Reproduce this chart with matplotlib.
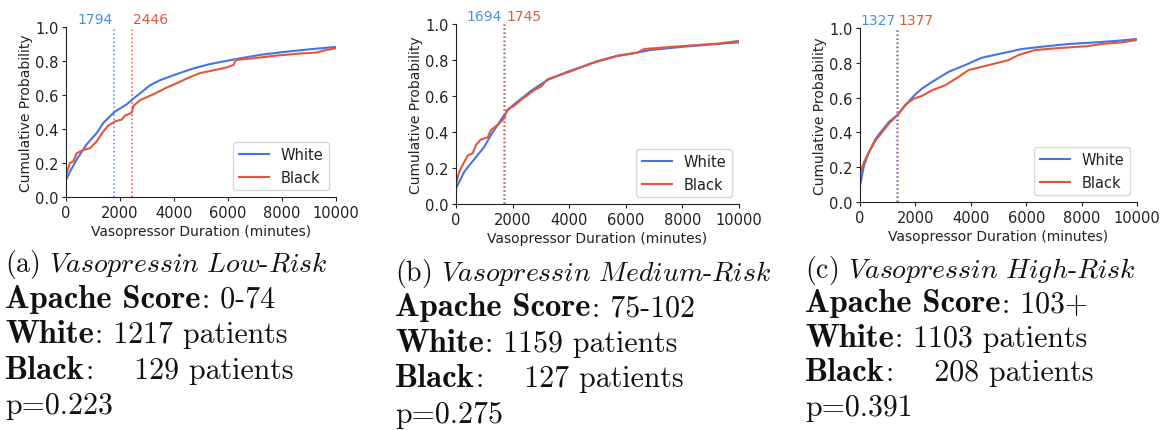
import matplotlib
matplotlib.use("Agg")
import matplotlib.pyplot as plt

plt.rcParams["mathtext.fontset"] = "cm"

# ---- data -------------------------------------------------------------
panel_tags = ["(a)", "(b)", "(c)"]
risk_names = ["Low", "Medium", "High"]
apache_ranges = ["0-74", "75-102", "103+"]
white_counts = [1217, 1159, 1103]
black_counts = [129, 127, 208]
p_values = ["0.223", "0.275", "0.391"]
white_medians = [1794, 1694, 1327]
black_medians = [2446, 1745, 1377]

# Empirical CDFs of vasopressor duration (minutes -> cumulative probability)
low_white_x = [0, 150, 395, 765, 1136, 1383, 1794, 2247, 2469, 3111, 3481, 4099,
               4716, 5333, 6321, 7185, 8173, 9160, 10000]
low_white_y = [0.10, 0.15, 0.22, 0.31, 0.376, 0.436, 0.50, 0.545, 0.575, 0.657,
               0.687, 0.723, 0.756, 0.782, 0.812, 0.836, 0.855, 0.871, 0.883]
low_black_x = [0, 148, 272, 395, 642, 889, 1136, 1383, 1568, 1815, 2062, 2185,
               2432, 2494, 2741, 3235, 3728, 4099, 4469, 4963, 5580, 5951, 6198,
               6296, 6938, 7802, 8667, 9284, 9531, 10000]
low_black_y = [0.13, 0.20, 0.21, 0.257, 0.277, 0.287, 0.327, 0.386, 0.42, 0.445,
               0.455, 0.479, 0.495, 0.535, 0.57, 0.604, 0.644, 0.669, 0.697, 0.729,
               0.749, 0.762, 0.776, 0.806, 0.816, 0.832, 0.844, 0.85, 0.861, 0.875]

med_white_x = [0, 294, 529, 765, 1000, 1235, 1470, 1706, 1882, 2176, 2647, 3235,
               3941, 4647, 5000, 5706, 6412, 6882, 8059, 9235, 10000]
med_white_y = [0.087, 0.18, 0.226, 0.272, 0.318, 0.383, 0.439, 0.494, 0.531,
               0.569, 0.628, 0.689, 0.735, 0.772, 0.794, 0.824, 0.841, 0.856,
               0.874, 0.889, 0.898]
med_black_x = [0, 118, 235, 412, 588, 706, 882, 1118, 1235, 1470, 1706, 1800,
               2059, 2294, 2765, 3000, 3235, 3941, 4765, 5706, 6412, 6647, 8059,
               9235, 10000]
med_black_y = [0.115, 0.18, 0.217, 0.269, 0.281, 0.328, 0.359, 0.37, 0.411, 0.439,
               0.476, 0.522, 0.546, 0.578, 0.633, 0.652, 0.693, 0.731, 0.781,
               0.822, 0.841, 0.861, 0.878, 0.891, 0.906]

high_white_x = [0, 144, 323, 563, 802, 1042, 1341, 1641, 1940, 2240, 2599, 3198,
                3796, 4395, 5114, 5832, 6551, 7509, 8467, 9186, 10000]
high_white_y = [0.095, 0.21, 0.287, 0.363, 0.412, 0.46, 0.498, 0.556, 0.61, 0.652,
                0.69, 0.748, 0.787, 0.829, 0.854, 0.879, 0.892, 0.908, 0.917,
                0.925, 0.937]
high_black_x = [0, 144, 323, 563, 802, 1042, 1341, 1641, 1940, 2240, 2599, 3078,
                3557, 3916, 4395, 4874, 5353, 5713, 6311, 7030, 8228, 8707, 9425,
                10000]
high_black_y = [0.162, 0.229, 0.287, 0.354, 0.402, 0.45, 0.498, 0.56, 0.594, 0.61,
                0.642, 0.671, 0.719, 0.758, 0.777, 0.796, 0.815, 0.844, 0.873,
                0.883, 0.896, 0.908, 0.917, 0.931]

white_curves = [(low_white_x, low_white_y), (med_white_x, med_white_y),
                (high_white_x, high_white_y)]
black_curves = [(low_black_x, low_black_y), (med_black_x, med_black_y),
                (high_black_x, high_black_y)]

# ---- styling -----------------------------------------------------------
WHITE_C = "#4673e6"
BLACK_C = "#e6553b"
WHITE_TXT = "#4a8de6"
INK = "#222222"
CAPTION_INK = "#111111"

fig = plt.figure(figsize=(11.61, 4.31), dpi=100)
W, H = 1161, 431
renderer = fig.canvas.get_renderer()

# axes boxes in pixels: left, top, right, bottom
axes_px = [(66, 28, 336, 198), (456, 25, 739, 205), (860, 29, 1137, 203)]
# caption left edge, first baseline and line spacing (pixels)
caption_px = [(5, 272.5, 35.5), (395, 281, 35.5), (805, 278, 34.5)]

for i in range(3):
    l, t, r, b = axes_px[i]
    ax = fig.add_axes([l / W, 1 - b / H, (r - l) / W, (b - t) / H])
    wx, wy = white_curves[i]
    bx, by = black_curves[i]
    ax.plot(wx, wy, color=WHITE_C, lw=1.5, label="White")
    ax.plot(bx, by, color=BLACK_C, lw=1.5, label="Black")
    ax.axvline(white_medians[i], color=WHITE_TXT, ls=":", lw=1.1)
    ax.axvline(black_medians[i], color=BLACK_C, ls=":", lw=1.1)
    tr = ax.get_xaxis_transform()
    ax.text(white_medians[i] - 60, 1.005, str(white_medians[i]), color=WHITE_TXT,
            ha="right", va="bottom", fontsize=10, transform=tr)
    ax.text(black_medians[i] + 20, 1.005, str(black_medians[i]), color=BLACK_C,
            ha="left", va="bottom", fontsize=10, transform=tr)
    ax.set_xlim(0, 10000)
    ax.set_ylim(0, 1.0)
    ax.set_xticks([0, 2000, 4000, 6000, 8000, 10000])
    ax.set_yticks([0.0, 0.2, 0.4, 0.6, 0.8, 1.0])
    ax.tick_params(labelsize=10.5, length=3, pad=2.5, color=INK, labelcolor=INK)
    ax.spines["top"].set_visible(False)
    ax.spines["right"].set_visible(False)
    for s in ("left", "bottom"):
        ax.spines[s].set_color(INK)
    ax.set_xlabel("Vasopressor Duration (minutes)", fontsize=10, labelpad=3,
                  color=INK)
    ax.set_ylabel("Cumulative Probability", fontsize=10, labelpad=1, color=INK)
    leg = ax.legend(loc="lower right", fontsize=10.5, handlelength=2.1,
                    borderpad=0.35)
    for txt in leg.get_texts():
        txt.set_color(INK)

    # caption block below the panel
    cx, cy, dy = caption_px[i]
    title = (panel_tags[i] + r" $\mathit{Vasopressin\ " + risk_names[i]
             + r"}$-$\mathit{Risk}$")
    fig.text(cx / W, 1 - cy / H, title, family="cmr10", fontsize=20,
             ha="left", va="baseline", color=CAPTION_INK)

    # bold field name followed by its value in roman type
    fields = [
        ("Apache Score", ": " + apache_ranges[i]),
        ("White", ": " + f"{white_counts[i]} patients"),
        ("Black", ":    " + f"{black_counts[i]} patients"),
    ]
    for k, (head, rest) in enumerate(fields, start=1):
        y = 1 - (cy + k * dy) / H
        th = fig.text(cx / W, y, head, family="cmb10", fontsize=23.5,
                      ha="left", va="baseline", color=CAPTION_INK)
        x_end = th.get_window_extent(renderer).x1
        fig.text(x_end / W + 0.001, y, rest, family="cmr10", fontsize=21.5,
                 ha="left", va="baseline", color=CAPTION_INK)
    fig.text(cx / W, 1 - (cy + 4 * dy) / H, "p=" + p_values[i], family="cmr10",
             fontsize=21.5, ha="left", va="baseline", color=CAPTION_INK)

fig.savefig("out.png", dpi=100)
